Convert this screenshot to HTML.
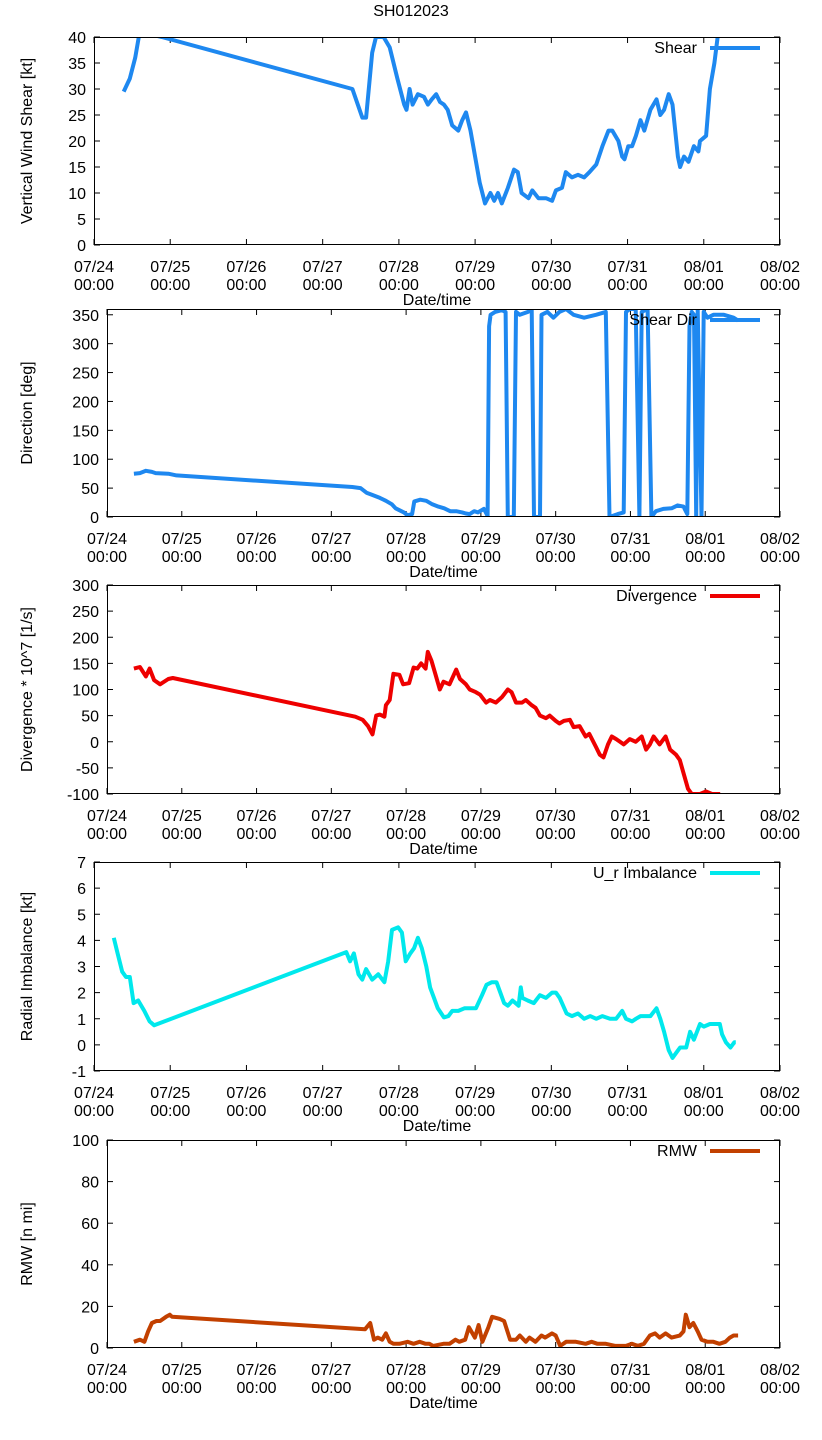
<!DOCTYPE html>
<html><head><meta charset="utf-8"><style>
html,body{margin:0;padding:0;background:#fff;}
svg{display:block;font-family:"Liberation Sans","DejaVu Sans",sans-serif;}
</style></head><body>
<svg id="chart" width="822" height="1440" viewBox="0 0 822 1440" xmlns="http://www.w3.org/2000/svg">
<rect width="822" height="1440" fill="#fff"/>
<text x="411" y="16" text-anchor="middle" font-size="16">SH012023</text>
</svg>
<script>
// x tick labels (days since 07/24 00:00)
const xTickDates = ["07/24","07/25","07/26","07/27","07/28","07/29","07/30","07/31","08/01","08/02"];
const xTickTimes = ["00:00","00:00","00:00","00:00","00:00","00:00","00:00","00:00","00:00","00:00"];

// Panel 1: shear
const shearT = [0.39,0.47,0.54,0.6,0.89,3.39,3.52,3.57,3.65,3.7,3.8,3.88,3.98,4.07,4.1,4.14,4.18,4.25,4.33,4.38,4.43,4.49,4.54,4.59,4.64,4.7,4.78,4.83,4.88,4.94,5.0,5.06,5.13,5.2,5.25,5.3,5.35,5.43,5.51,5.56,5.61,5.7,5.75,5.83,5.93,6.01,6.06,6.14,6.19,6.27,6.35,6.43,6.5,6.59,6.67,6.75,6.8,6.88,6.93,6.96,7.01,7.06,7.11,7.17,7.22,7.3,7.38,7.43,7.48,7.54,7.59,7.66,7.69,7.74,7.8,7.87,7.93,7.95,8.03,8.08,8.14,8.19,8.24,8.32,8.42];
const shearV = [29.5,32,36,41,40,30,24.5,24.5,37,40,40,38,32,27,26,30,27,29,28.5,27,28,29,27.5,27,26,23,22,24,25.5,22,17,12,8,10,8.5,10,8,11,14.5,14,10,9,10.5,9,9,8.5,10.5,11,14,13,13.5,13,14,15.5,19,22,22,20,17,16.5,19,19,21,24,22,26,28,25,26,29,27,17,15,17,16,19,18,20,21,30,35,41,41,41,41];

// Panel 2: shear direction
const dirT = [0.36,0.44,0.52,0.6,0.65,0.82,0.93,3.28,3.39,3.47,3.55,3.65,3.73,3.81,3.86,3.97,4.02,4.08,4.11,4.19,4.27,4.35,4.43,4.51,4.59,4.67,4.75,4.8,4.85,4.91,4.96,5.04,5.09,5.11,5.13,5.19,5.28,5.33,5.36,5.44,5.47,5.52,5.63,5.68,5.71,5.79,5.81,5.89,5.97,6.05,6.14,6.24,6.38,6.54,6.67,6.72,6.83,6.91,6.94,6.99,7.07,7.12,7.15,7.23,7.28,7.34,7.44,7.55,7.63,7.71,7.76,7.79,7.82,7.85,7.88,7.9,7.95,7.98,8.03,8.11,8.25,8.38,8.44];
const dirV = [75,76,80,78,76,75,72,52,50,42,38,33,28,22,15,8,3,5,27,30,28,22,18,15,10,10,8,6,5,10,8,14,2,330,350,355,358,355,0,0,355,350,355,360,0,0,350,355,345,355,360,350,345,350,355,0,5,8,355,360,360,0,355,360,0,10,14,15,20,18,5,330,355,350,0,360,0,355,345,350,350,345,340];

// Panel 3: divergence
const divT = [0.36,0.44,0.52,0.57,0.63,0.71,0.82,0.88,3.32,3.42,3.49,3.55,3.6,3.65,3.71,3.73,3.78,3.83,3.91,3.96,4.04,4.1,4.15,4.2,4.26,4.29,4.34,4.39,4.45,4.5,4.58,4.67,4.72,4.8,4.85,4.93,4.99,5.07,5.12,5.2,5.28,5.36,5.41,5.47,5.55,5.6,5.68,5.73,5.79,5.87,5.92,6.0,6.05,6.11,6.19,6.24,6.32,6.4,6.45,6.54,6.59,6.64,6.7,6.75,6.81,6.86,6.91,6.99,7.07,7.15,7.21,7.26,7.31,7.39,7.47,7.53,7.61,7.66,7.71,7.77,7.82,7.93,8.01,8.09,8.2];
const divV = [140,143,125,140,118,110,120,122,48,42,30,14,50,52,48,70,80,130,128,110,112,142,140,150,140,172,155,130,100,115,110,138,120,110,100,95,90,75,80,75,85,100,95,75,75,80,70,65,50,45,50,40,35,40,42,28,30,10,15,-10,-25,-30,-5,10,5,0,-5,5,0,10,-15,-5,10,-5,10,-15,-25,-35,-60,-90,-100,-100,-95,-100,-100];

// Panel 4: radial imbalance
const urT = [0.26,0.31,0.37,0.42,0.47,0.52,0.58,0.66,0.73,0.79,3.31,3.36,3.41,3.47,3.52,3.57,3.65,3.73,3.81,3.86,3.91,3.99,4.04,4.09,4.15,4.2,4.25,4.3,4.36,4.41,4.46,4.51,4.59,4.65,4.7,4.78,4.86,4.93,5.01,5.09,5.15,5.22,5.28,5.33,5.38,5.43,5.49,5.57,5.6,5.62,5.69,5.77,5.85,5.93,6.01,6.06,6.11,6.2,6.27,6.35,6.43,6.51,6.59,6.67,6.77,6.85,6.93,6.98,7.06,7.11,7.17,7.3,7.38,7.43,7.48,7.54,7.59,7.64,7.69,7.77,7.82,7.87,7.95,8.0,8.08,8.16,8.21,8.24,8.29,8.35,8.4,8.42];
const urV = [4.1,3.5,2.8,2.6,2.6,1.6,1.7,1.3,0.9,0.75,3.55,3.2,3.5,2.7,2.5,2.9,2.5,2.7,2.4,3.2,4.4,4.5,4.3,3.2,3.5,3.7,4.1,3.7,3.0,2.2,1.8,1.4,1.05,1.1,1.3,1.3,1.4,1.4,1.4,1.9,2.3,2.4,2.4,2.0,1.6,1.5,1.7,1.5,2.2,1.8,1.7,1.6,1.9,1.8,2.0,2.0,1.8,1.2,1.1,1.2,1.0,1.1,1.0,1.1,1.0,1.0,1.3,1.0,0.9,1.0,1.1,1.1,1.4,1.0,0.5,-0.2,-0.5,-0.3,-0.1,-0.1,0.5,0.2,0.8,0.7,0.8,0.8,0.8,0.4,0.1,-0.1,0.1,0.1];

// Panel 5: RMW
const rmwT = [0.36,0.44,0.5,0.55,0.6,0.66,0.71,0.79,0.84,0.87,3.45,3.52,3.57,3.62,3.68,3.73,3.78,3.83,3.91,4.02,4.1,4.18,4.26,4.31,4.36,4.5,4.58,4.66,4.71,4.79,4.84,4.92,4.97,5.02,5.1,5.15,5.25,5.31,5.39,5.47,5.52,5.6,5.65,5.73,5.81,5.86,5.95,6.0,6.06,6.14,6.27,6.4,6.48,6.56,6.67,6.8,6.94,7.02,7.1,7.18,7.26,7.33,7.39,7.47,7.55,7.66,7.71,7.74,7.79,7.84,7.9,7.95,8.03,8.11,8.19,8.27,8.33,8.38,8.44];
const rmwV = [3,4,3,8,12,13,13,15,16,15,9,12,4,5,4,7,3,2,2,3,2,3,2,2,1,2,2,4,3,4,10,5,11,3,10,15,14,13,4,4,6,3,5,3,6,5,7,6,1,3,3,2,3,2,2,1,1,2,1,2,6,7,5,7,5,6,8,16,10,12,8,4,3,3,2,3,5,6,6];

// Panel labels
const yTitles = ["Vertical Wind Shear [kt]","Direction [deg]","Divergence * 10^7 [1/s]","Radial Imbalance [kt]","RMW [n mi]"];
const legendLabels = ["Shear","Shear Dir","Divergence","U_r Imbalance","RMW"];

const NS = "http://www.w3.org/2000/svg";
const svg = document.getElementById('chart');
function mk(tag, attrs, parent){
  const e = document.createElementNS(NS, tag);
  for (const k in attrs) e.setAttribute(k, attrs[k]);
  (parent||svg).appendChild(e);
  return e;
}
const panels = [
  {l:94, t:37, b:245, ymin:0, ymax:40, step:5, T:shearT, V:shearV, color:"#1e88f0", key:"shear"},
  {l:107, t:309, b:517, ymin:0, ymax:360, step:50, yTop:350, T:dirT, V:dirV, color:"#1e88f0", key:"direction"},
  {l:107, t:585, b:794, ymin:-100, ymax:300, step:50, T:divT, V:divV, color:"#ee0000", key:"divergence"},
  {l:94, t:862, b:1071, ymin:-1, ymax:7, step:1, T:urT, V:urV, color:"#00e8ec", key:"imbalance"},
  {l:107, t:1140, b:1348, ymin:0, ymax:100, step:20, T:rmwT, V:rmwV, color:"#c24000", key:"rmw"}
];
const R = 780;
panels.forEach((p, i) => {
  const g = mk('g', {});
  
  
  const xs = d => p.l + (R - p.l) * d / 9;
  const ys = v => p.b - (p.b - p.t) * (v - p.ymin) / (p.ymax - p.ymin);
  const cp = mk('clipPath', {id:'clip'+i}, g);
  mk('rect', {x:p.l, y:p.t, width:R-p.l, height:p.b-p.t}, cp);
  const top = p.yTop !== undefined ? p.yTop : p.ymax;
  for (let v = p.ymin; v <= top + 1e-9; v += p.step) {
    const y = ys(v);
    mk('line', {x1:p.l, x2:p.l+6, y1:y, y2:y, stroke:'#000', 'stroke-width':1}, g);
    mk('line', {x1:R-6, x2:R, y1:y, y2:y, stroke:'#000', 'stroke-width':1}, g);
    const tx = mk('text', {x:p.l-8, y:y+6, 'text-anchor':'end', 'font-size':16}, g);
    tx.textContent = String(Math.round(v*100)/100);
    
    
  }
  xTickDates.forEach((d, k) => {
    const x = xs(k);
    mk('line', {x1:x, x2:x, y1:p.b, y2:p.b-6, stroke:'#000', 'stroke-width':1}, g);
    mk('line', {x1:x, x2:x, y1:p.t, y2:p.t+6, stroke:'#000', 'stroke-width':1}, g);
    const t1 = mk('text', {x:x, y:p.b+27, 'text-anchor':'middle', 'font-size':16}, g);
    t1.textContent = d;
    
    
    const t2 = mk('text', {x:x, y:p.b+45, 'text-anchor':'middle', 'font-size':16}, g);
    t2.textContent = xTickTimes[k];
    
    
  });
  const xt = mk('text', {x:(p.l+R)/2, y:p.b+60, 'text-anchor':'middle', 'font-size':16}, g);
  xt.textContent = 'Date/time';
  
  
  const yc = (p.t+p.b)/2;
  const yt = mk('text', {x:32, y:yc, 'text-anchor':'middle', 'font-size':16, transform:`rotate(-90 32 ${yc})`}, g);
  yt.textContent = yTitles[i];
  
  
  const pts = p.T.map((t, k) => xs(t).toFixed(1) + ',' + ys(p.V[k]).toFixed(1)).join(' ');
  const line = mk('polyline', {points:pts, fill:'none', stroke:p.color, 'stroke-width':4, 'stroke-linejoin':'round', 'clip-path':`url(#clip${i})`}, g);
  
  
  const lt = mk('text', {x:697, y:p.t+16, 'text-anchor':'end', 'font-size':16}, g);
  lt.textContent = legendLabels[i];
  
  
  const ll = mk('line', {x1:710, x2:760, y1:p.t+11, y2:p.t+11, stroke:p.color, 'stroke-width':4}, g);
  
  
  mk('rect', {x:p.l+0.5, y:p.t+0.5, width:R-p.l-1, height:p.b-p.t-1, fill:'none', stroke:'#000', 'stroke-width':1}, g);
});
</script>
</body></html>
